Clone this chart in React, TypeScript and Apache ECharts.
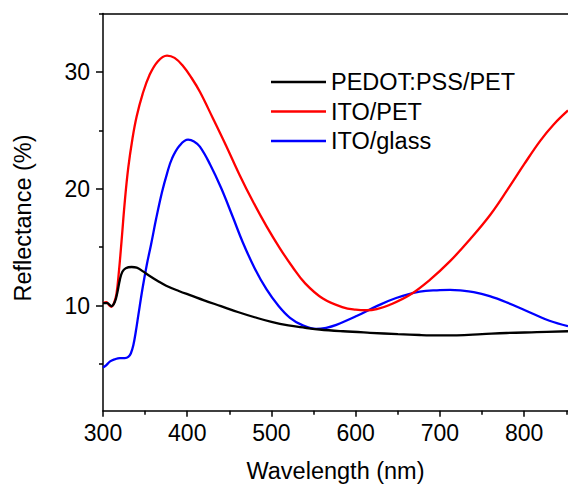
import React, { useEffect, useRef } from "react";
import * as echarts from "echarts";

const seriesNames = ["PEDOT:PSS/PET", "ITO/PET", "ITO/glass"];
const seriesColors = ["#000000", "#ff0000", "#0000ff"];

const xMajorTicks = [300, 400, 500, 600, 700, 800];
const xMinorTicks = [350, 450, 550, 650, 750, 850];
const yMajorTicks = [10, 20, 30];
const yMinorTicks = [5, 15, 25, 35];

const pedotData = [
  [300, 10.2], [305, 10.2], [310, 9.95], [314, 10.3], [317, 11.1], [320, 12.2],
  [323, 12.9], [327, 13.2], [334, 13.3], [340, 13.25], [347, 12.95], [355, 12.55],
  [365, 12.1], [375, 11.7], [390, 11.25], [405, 10.85], [420, 10.45], [440, 9.95],
  [460, 9.45], [480, 9.0], [500, 8.6], [520, 8.3], [540, 8.1], [557, 7.95],
  [585, 7.8], [617, 7.67], [650, 7.55], [676, 7.48], [700, 7.45], [720, 7.45],
  [750, 7.55], [779, 7.65], [815, 7.72], [852, 7.8],
];

const itoPetData = [
  [300, 10.2], [304, 10.3], [307, 10.05], [310, 9.9], [313, 10.2], [316, 11.0],
  [319, 13.0], [322, 15.5], [326, 19.0], [330, 21.8], [335, 24.3], [340, 26.2],
  [347, 28.1], [355, 29.7], [365, 30.9], [376, 31.4], [385, 31.2], [395, 30.5],
  [405, 29.5], [415, 28.3], [430, 26.1], [446, 23.7], [462, 21.2], [478, 18.9],
  [494, 16.8], [510, 14.9], [525, 13.3], [540, 11.9], [561, 10.6], [585, 9.85],
  [600, 9.65], [613, 9.6], [625, 9.7], [640, 10.05], [664, 10.9], [688, 12.2],
  [712, 13.8], [736, 15.7], [760, 17.8], [780, 19.9], [800, 22.1], [819, 24.1],
  [835, 25.5], [852, 26.7],
];

const itoGlassData = [
  [300, 4.7], [304, 4.9], [308, 5.2], [314, 5.4], [320, 5.5], [326, 5.5],
  [330, 5.6], [333, 5.9], [336, 6.6], [339, 7.8], [342, 9.2], [347, 11.5],
  [352, 13.5], [357, 15.2], [363, 17.4], [370, 19.7], [376, 21.3], [382, 22.6],
  [391, 23.7], [401, 24.2], [408, 24.05], [415, 23.6], [427, 22.1], [440, 20.1],
  [454, 17.6], [466, 15.4], [480, 13.2], [494, 11.4], [508, 10.0], [522, 8.95],
  [536, 8.35], [553, 8.0], [565, 8.1], [577, 8.35], [601, 9.1], [625, 9.95],
  [648, 10.65], [676, 11.2], [700, 11.32], [712, 11.35], [724, 11.3], [740, 11.15],
  [759, 10.8], [780, 10.25], [799, 9.66], [815, 9.15], [830, 8.7], [852, 8.23],
];

const allData = [pedotData, itoPetData, itoGlassData];

const FONT = "Liberation Sans, Arial, sans-serif";
const X_MIN = 300;
const X_MAX = 852;
const Y_MIN = 1;
const Y_MAX = 35;

export default function App() {
  const ref = useRef<HTMLDivElement>(null);

  useEffect(() => {
    document.body.style.margin = "0";
    if (!ref.current) return;
    const chart = echarts.init(ref.current, null, { renderer: "svg" });
    const axisLine = { show: true, lineStyle: { color: "#000", width: 1.5 } };
    const option: any = {
      animation: false,
      backgroundColor: "#ffffff",
      grid: { left: 103, right: 0, top: 13.5, bottom: 77.3, containLabel: false },
      legend: {
        orient: "vertical",
        left: 271,
        top: 70,
        padding: 0,
        itemWidth: 55,
        itemHeight: 2.5,
        itemGap: 5.5,
        icon: "rect",
        textStyle: { fontFamily: FONT, fontSize: 23.5, color: "#000", lineHeight: 24 },
        data: seriesNames,
      },
      graphic: [
        {
          type: "text",
          x: 22.5,
          y: 218,
          rotation: Math.PI / 2,
          style: {
            text: "Reflectance (%)",
            fontFamily: FONT,
            fontSize: 23.5,
            fill: "#000",
            align: "center",
            verticalAlign: "middle",
          },
        },
      ],
      xAxis: [
        {
          type: "value",
          position: "bottom",
          min: X_MIN,
          max: X_MAX,
          axisLine,
          splitLine: { show: false },
          axisTick: { show: true, customValues: xMajorTicks, length: 6, lineStyle: { color: "#000", width: 1.5 } },
          axisLabel: {
            customValues: xMajorTicks,
            fontFamily: FONT,
            fontSize: 23,
            color: "#000",
            margin: 11,
          },
          name: "Wavelength (nm)",
          nameLocation: "middle",
          nameGap: 48,
          nameTextStyle: { fontFamily: FONT, fontSize: 23.5, color: "#000" },
        },
        {
          type: "value",
          position: "bottom",
          min: X_MIN,
          max: X_MAX,
          axisLine: { show: false },
          splitLine: { show: false },
          axisTick: { show: true, customValues: xMinorTicks, length: 4, lineStyle: { color: "#000", width: 1.5 } },
          axisLabel: { show: false },
        },
        {
          type: "value",
          position: "top",
          min: X_MIN,
          max: X_MAX,
          axisLine,
          splitLine: { show: false },
          axisTick: { show: false },
          axisLabel: { show: false },
        },
      ],
      yAxis: [
        {
          type: "value",
          position: "left",
          min: Y_MIN,
          max: Y_MAX,
          axisLine,
          splitLine: { show: false },
          axisTick: { show: true, customValues: yMajorTicks, length: 7, lineStyle: { color: "#000", width: 1.5 } },
          axisLabel: {
            customValues: yMajorTicks,
            fontFamily: FONT,
            fontSize: 23,
            color: "#000",
            margin: 13,
          },
        },
        {
          type: "value",
          position: "left",
          min: Y_MIN,
          max: Y_MAX,
          axisLine: { show: false },
          splitLine: { show: false },
          axisTick: { show: true, customValues: yMinorTicks, length: 4, lineStyle: { color: "#000", width: 1.5 } },
          axisLabel: { show: false },
        },
      ],
      series: seriesNames.map((name, i) => ({
        name,
        type: "line",
        xAxisIndex: 0,
        yAxisIndex: 0,
        data: allData[i],
        smooth: 0.4,
        symbol: "none",
        showSymbol: false,
        color: seriesColors[i],
        lineStyle: { color: seriesColors[i], width: 2.3 },
        itemStyle: { color: seriesColors[i] },
        z: i === 0 ? 4 : i === 1 ? 3 : 2,
      })),
    };
    chart.setOption(option);
    return () => chart.dispose();
  }, []);

  return <div ref={ref} style={{ width: 568, height: 488 }} />;
}
